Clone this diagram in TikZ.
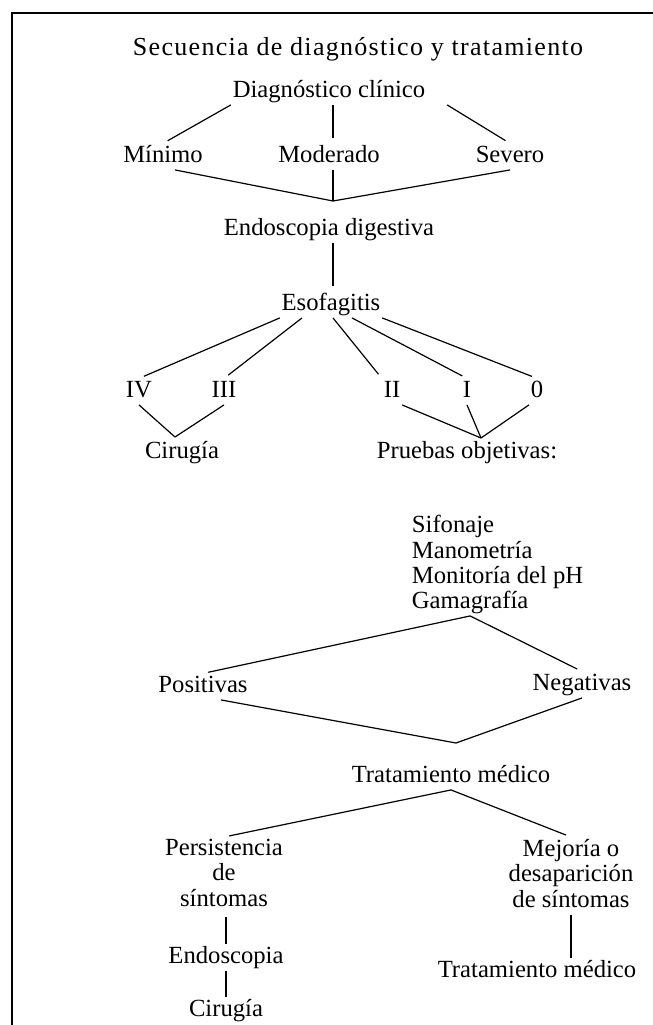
\documentclass[tikz,border=0pt]{standalone}
\usepackage{fontspec}
\setmainfont{Liberation Serif}

\tikzset{
  lbl/.style={font=\fontsize{18.5}{19}\selectfont, inner sep=1pt, text height=12.5pt, text depth=4.5pt, anchor=base},
  stack/.style={font=\fontsize{18.5}{19.1}\selectfont, inner sep=1pt, align=center, anchor=north},
  tie/.style={shorten >=4pt},
}

\begin{document}
\begin{tikzpicture}[x=0.75pt, y=-0.75pt, line width=0.9pt]
    \useasboundingbox (0,0) rectangle (653,1025);
    \draw[line width=1.5pt] (12,1025) -- (12,13) -- (653,13);

    \coordinate (j1) at (333,201);
    \coordinate (j2) at (175,437);
    \coordinate (j3) at (481,438);
    \coordinate (j4) at (456,743);

    \node[lbl, font=\fontsize{19.5}{20}\selectfont\addfontfeature{LetterSpace=5}] (title) at (358,55) {Secuencia de diagnóstico y tratamiento};

    \node[lbl] (dc) at (329,97) {Diagnóstico clínico};
    \node[lbl] (min) at (163,162) {Mínimo};
    \node[lbl] (mod) at (329,162) {Moderado};
    \node[lbl] (sev) at (510,162) {Severo};
    \node[lbl] (endo) at (329,235) {Endoscopia digestiva};
    \node[lbl] (eso) at (331,310) {Esofagitis};

    \node[lbl] (g4) at (139,397) {IV};
    \node[lbl] (g3) at (224,397) {III};
    \node[lbl] (g2) at (392,397) {II};
    \node[lbl] (g1) at (467,397) {I};
    \node[lbl] (g0) at (537,397) {0};

    \node[lbl] (cir) at (182,458) {Cirugía};
    \node[lbl] (prue) at (467,458) {Pruebas objetivas:};

    \node[lbl, anchor=base west] (sif) at (410,532) {Sifonaje};
    \node[lbl, anchor=base west] (man) at (410,558) {Manometría};
    \node[lbl, anchor=base west] (mon) at (410,583) {Monitoría del pH};
    \node[lbl, anchor=base west] (gam) at (410,608) {Gamagrafía};

    \node[lbl] (pos) at (203,692) {Positivas};
    \node[lbl] (neg) at (582,690) {Negativas};
    \node[lbl] (tm) at (451,782) {Tratamiento médico};

    \node[stack] (per) at (224,837) {Persistencia\\de\\síntomas};
    \node[stack] (mej) at (571,837) {Mejoría o\\desaparición\\de síntomas};
    \node[lbl] (endo2) at (226,963) {Endoscopia};
    \node[lbl] (cir2) at (226,1016) {Cirugía};
    \node[lbl] (tm2) at (537,977) {Tratamiento médico};

    % clinical grade
    \draw[tie] (dc.south west) -- (min.north);
    \draw[tie] (dc.south) ++(4,0) -- (mod.north -| j1);
    \draw[tie] (dc.south east) ++(20,0) -- (sev.north);
    \draw (min.south) ++(12,0) -- (j1);
    \draw (mod.south -| j1) -- (j1);
    \draw (sev.south) -- (j1);
    \draw[tie] (endo.south -| j1) -- (eso.north -| j1);

    % esophagitis grades
    \draw[tie] (eso.south west) -- (g4.north);
    \draw[tie] (eso.south) ++(-29,0) -- (g3.north);
    \draw[tie] (eso.south) ++(2,0) -- (g2.north west);
    \draw[tie] (eso.south) ++(21,0) -- (g1.north);
    \draw[tie] (eso.south east) -- (g0.north);

    \draw (g4.south) -- (j2);
    \draw (g3.south) -- (j2);
    \draw (g2.south east) -- (j3);
    \draw (g1.south) -- (j3);
    \draw (g0.south west) -- (j3);

    % objective tests
    \draw[tie] (gam.south) -- (pos.north);
    \draw[tie] (gam.south) -- (neg.north);
    \draw (pos.south) ++(18,0) -- (j4);
    \draw (neg.south) -- (j4);

    % medical treatment
    \draw[tie] (tm.south) -- (per.north);
    \draw[tie] (tm.south) -- (mej.north);
    \draw (per.south -| endo2.north) ++(0,9) -- (endo2.north);
    \draw (endo2.south) -- (endo2.south |- cir2.north);
    \draw (mej.south) ++(0,6) -- (mej.south |- tm2.north);
\end{tikzpicture}
\end{document}
